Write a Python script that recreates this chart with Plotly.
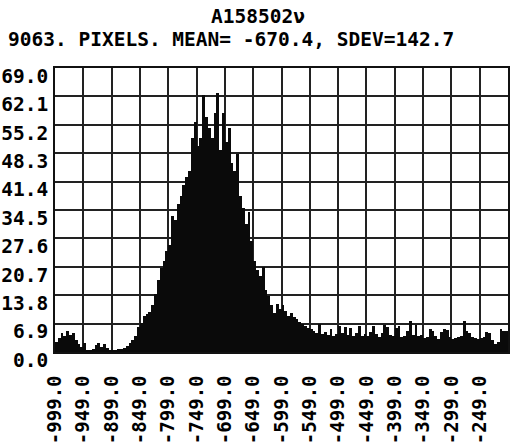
import plotly.graph_objects as go

# ---- data ----
bin_start = -999.0      # left edge of first bin
bin_width = 5.0         # width of each histogram bin
counts = [
    # -999 .. -949
    2.5, 3.5, 4.5, 4.0, 5.0, 4.2, 4.6, 3.0, 2.0, 1.2,
    # -949 .. -899
    2.2, 0.4, 0.3, 0.8, 1.6, 2.2, 1.3, 2.0, 1.0, 0.4,
    # -899 .. -849
    0.4, 0.5, 0.7, 0.8, 1.0, 1.5, 2.2, 2.8, 3.8, 6.0,
    # -849 .. -799
    7.0, 8.7, 9.3, 9.8, 11.5, 14.0, 17.5, 20.5, 22.0, 24.5,
    # -799 .. -749
    26.0, 33.0, 32.0, 36.0, 38.0, 40.5, 42.5, 44.0, 52.0, 56.0,
    # -749 .. -699
    50.0, 52.0, 62.5, 57.0, 54.5, 52.0, 58.0, 63.0, 49.0, 58.0,
    # -699 .. -649
    51.0, 54.5, 46.0, 44.0, 48.0, 38.0, 35.0, 31.0, 34.0, 27.0,
    # -649 .. -599
    22.0, 20.0, 18.5, 20.6, 15.0, 13.6, 11.5, 9.5, 11.6, 10.5,
    # -599 .. -549
    11.5, 10.0, 8.7, 9.5, 8.5, 8.0, 7.2, 6.8, 6.3, 5.8,
    # -549 .. -499
    5.6, 5.2, 4.6, 6.8, 4.4, 4.8, 4.2, 5.6, 4.0, 4.4,
    # -499 .. -449
    6.2, 4.5, 6.0, 4.2, 5.8, 3.8, 4.6, 6.3, 4.0, 4.4,
    # -449 .. -399
    3.9, 4.8, 6.4, 4.3, 3.6, 4.5, 6.6, 6.0, 4.2, 3.8,
    # -399 .. -349
    5.8, 6.2, 3.6, 4.0, 5.0, 7.5, 4.2, 6.5, 3.8, 4.2,
    # -349 .. -299
    3.4, 3.6, 5.6, 5.2, 3.8, 3.2, 4.8, 5.5, 5.4, 3.6,
    # -299 .. -249
    3.2, 3.4, 3.6, 4.0, 7.5, 5.0, 4.6, 3.6, 3.4, 3.2,
    # -249 .. -199
    3.3, 3.6, 4.8, 4.6, 3.0, 2.0, 2.4, 5.6, 5.2, 5.0,
]
x_ticks = [-999, -949, -899, -849, -799, -749, -699, -649,
           -599, -549, -499, -449, -399, -349, -299, -249]
x_tick_text = ["-999.0", "-949.0", "-899.0", "-849.0", "-799.0", "-749.0",
               "-699.0", "-649.0", "-599.0", "-549.0", "-499.0", "-449.0",
               "-399.0", "-349.0", "-299.0", "-249.0"]
y_ticks = [0.0, 6.9, 13.8, 20.7, 27.6, 34.5, 41.4, 48.3, 55.2, 62.1, 69.0]
y_tick_text = ["0.0", "6.9", "13.8", "20.7", "27.6", "34.5",
               "41.4", "48.3", "55.2", "62.1", "69.0"]
title_line1 = "A158502\u03bd"
title_line2 = "9063. PIXELS. MEAN= -670.4, SDEV=142.7"
x_range = [-999, -199]
y_range = [0, 69.0]

centers = [bin_start + bin_width * (i + 0.5) for i in range(len(counts))]

FONT = "DejaVu Sans Mono"
INK = "#000000"
FS = 19.5
WEIGHT = 600

fig = go.Figure()
fig.add_trace(go.Bar(
    x=centers, y=counts, width=bin_width,
    marker=dict(color="#0a0a0a", line=dict(width=0)),
    hoverinfo="skip",
))

fig.update_layout(
    width=511, height=445,
    margin=dict(l=53, r=1, t=68, b=92),
    paper_bgcolor="white", plot_bgcolor="white",
    showlegend=False, bargap=0,
    font=dict(family=FONT, size=FS, color=INK, weight=WEIGHT),
)
fig.update_xaxes(
    range=x_range, tickvals=x_ticks, ticktext=x_tick_text,
    tickangle=-90, showgrid=True, gridcolor="#222222", gridwidth=1.5,
    showline=True, linecolor="#111111", linewidth=1.8, mirror=True,
    ticks="", ticklabelstandoff=14, zeroline=False,
    tickfont=dict(family=FONT, size=19, color=INK, weight=WEIGHT),
)
fig.update_yaxes(
    range=y_range, tickvals=y_ticks, ticktext=y_tick_text,
    showgrid=True, gridcolor="#222222", gridwidth=1.5,
    showline=True, linecolor="#111111", linewidth=1.8, mirror=True,
    ticks="", ticklabelstandoff=1, ticklabelshift=8, zeroline=False,
    tickfont=dict(family=FONT, size=FS, color=INK, weight=WEIGHT),
)

fig.add_annotation(text=title_line1, xref="paper", yref="paper",
                   x=(258 - 53) / 457, y=(353 - 16) / 285,
                   xanchor="center", yanchor="middle", showarrow=False,
                   font=dict(family=FONT, size=FS, color=INK, weight=WEIGHT))
fig.add_annotation(text=title_line2, xref="paper", yref="paper",
                   x=(4 - 53) / 457, y=(353 - 39) / 285,
                   xanchor="left", yanchor="middle", showarrow=False,
                   font=dict(family=FONT, size=FS, color=INK, weight=WEIGHT))

fig.write_html("out.html")
